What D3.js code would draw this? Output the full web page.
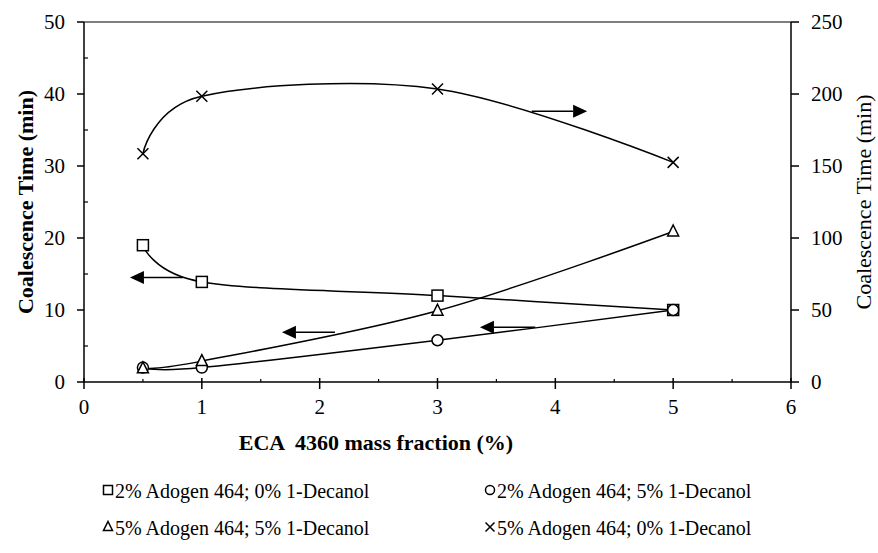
<!DOCTYPE html>
<html>
<head>
<meta charset="utf-8">
<script src="https://cdn.jsdelivr.net/npm/d3@7"></script>
<style>
  body { margin: 0; background: #fff; }
</style>
</head>
<body>
<svg id="chart" width="878" height="553"></svg>
<script>
// ECA 4360 mass fraction (%)
const xValues = [0.5, 1, 3, 5];

// left axis series (min)
const sq2a0d = [19, 13.9, 12, 10];
const ci2a5d = [2, 2, 5.8, 10];
const tr5a5d = [1.9, 2.9, 9.9, 20.9];
// right axis series (min)
const x5a0d = [158.5, 198.5, 203.5, 152.5];

const leftTicks = [0, 10, 20, 30, 40, 50];
const leftMinor = [5, 15, 25, 35, 45];
const rightTicks = [0, 50, 100, 150, 200, 250];
const xTicks = [0, 1, 2, 3, 4, 5, 6];
const xMinor = [0.5, 1.5, 2.5, 3.5, 4.5, 5.5];

// arrows: [from x, to x, y, axis]
const arrows = [
  [0.84, 0.39, 14.5, 'left'],
  [2.13, 1.68, 6.9, 'left'],
  [3.83, 3.36, 7.6, 'left'],
  [3.80, 4.27, 188, 'right']
];

const legendItems = [
  { label: '2% Adogen 464; 0% 1-Decanol', shape: 'square' },
  { label: '2% Adogen 464; 5% 1-Decanol', shape: 'circle' },
  { label: '5% Adogen 464; 5% 1-Decanol', shape: 'triangle' },
  { label: '5% Adogen 464; 0% 1-Decanol', shape: 'cross' }
];

const FONT = 'Liberation Serif';
const svg = d3.select('#chart');
const pLeft = 84, pRight = 791, pTop = 22, pBottom = 382;

const x = d3.scaleLinear().domain([0, 6]).range([pLeft, pRight]);
const yL = d3.scaleLinear().domain([0, 50]).range([pBottom, pTop]);
const yR = d3.scaleLinear().domain([0, 250]).range([pBottom, pTop]);

function txt(g) {
  return g.append('text').attr('font-family', FONT).attr('fill', '#000');
}

// frame
svg.append('line').attr('x1', pLeft).attr('x2', pRight).attr('y1', pTop).attr('y2', pTop)
  .attr('stroke', '#000').attr('stroke-width', 1.2);

// left axis
svg.append('line').attr('x1', pLeft).attr('x2', pLeft).attr('y1', pTop).attr('y2', pBottom)
  .attr('stroke', '#000').attr('stroke-width', 1.5);
leftTicks.forEach(t => {
  svg.append('line').attr('x1', pLeft - 7).attr('x2', pLeft).attr('y1', yL(t)).attr('y2', yL(t))
    .attr('stroke', '#000').attr('stroke-width', 1.5);
  txt(svg).attr('x', pLeft - 19).attr('y', yL(t) + 7).attr('text-anchor', 'end')
    .attr('font-size', 21).text(t);
});
leftMinor.forEach(t => {
  svg.append('line').attr('x1', pLeft).attr('x2', pLeft + 4).attr('y1', yL(t)).attr('y2', yL(t))
    .attr('stroke', '#000').attr('stroke-width', 1.2);
});

// right axis
svg.append('line').attr('x1', pRight).attr('x2', pRight).attr('y1', pTop).attr('y2', pBottom)
  .attr('stroke', '#000').attr('stroke-width', 1.5);
rightTicks.forEach(t => {
  svg.append('line').attr('x1', pRight).attr('x2', pRight + 8).attr('y1', yR(t)).attr('y2', yR(t))
    .attr('stroke', '#000').attr('stroke-width', 1.5);
  txt(svg).attr('x', pRight + 20).attr('y', yR(t) + 7).attr('text-anchor', 'start')
    .attr('font-size', 21).text(t);
});

// bottom axis
svg.append('line').attr('x1', pLeft).attr('x2', pRight).attr('y1', pBottom).attr('y2', pBottom)
  .attr('stroke', '#000').attr('stroke-width', 1.5);
xTicks.forEach(t => {
  svg.append('line').attr('x1', x(t)).attr('x2', x(t)).attr('y1', pBottom - 4).attr('y2', pBottom + 7)
    .attr('stroke', '#000').attr('stroke-width', 1.5);
  txt(svg).attr('x', x(t)).attr('y', pBottom + 32).attr('text-anchor', 'middle')
    .attr('font-size', 21).text(t);
});
xMinor.forEach(t => {
  svg.append('line').attr('x1', x(t)).attr('x2', x(t)).attr('y1', pBottom - 3).attr('y2', pBottom)
    .attr('stroke', '#000').attr('stroke-width', 1.2);
});

// axis titles
txt(svg).attr('x', 376).attr('y', 450).attr('text-anchor', 'middle')
  .attr('font-size', 22).attr('font-weight', 'bold').attr('xml:space', 'preserve')
  .text('ECA  4360 mass fraction (%)');
txt(svg).attr('transform', `translate(33,${(pTop + pBottom) / 2}) rotate(-90)`)
  .attr('text-anchor', 'middle').attr('font-size', 22).attr('font-weight', 'bold')
  .text('Coalescence Time (min)');
txt(svg).attr('transform', `translate(871,${(pTop + pBottom) / 2}) rotate(-90)`)
  .attr('text-anchor', 'middle').attr('font-size', 22)
  .text('Coalescence Time (min)');

// lines
const series = [
  { vals: sq2a0d, y: yL, shape: 'square' },
  { vals: ci2a5d, y: yL, shape: 'circle' },
  { vals: tr5a5d, y: yL, shape: 'triangle' },
  { vals: x5a0d, y: yR, shape: 'cross' }
];
series.forEach(s => {
  const line = d3.line().x((d, i) => x(xValues[i])).y(d => s.y(d)).curve(d3.curveCardinal.tension(0));
  svg.append('path').attr('d', line(s.vals)).attr('fill', 'none')
    .attr('stroke', '#000').attr('stroke-width', 1.5);
});

function marker(g, shape, cx, cy, size) {
  const h = size / 2;
  if (shape === 'square') {
    g.append('rect').attr('x', cx - h).attr('y', cy - h).attr('width', size).attr('height', size)
      .attr('fill', '#fff').attr('stroke', '#000').attr('stroke-width', 1.5);
  } else if (shape === 'circle') {
    g.append('circle').attr('cx', cx).attr('cy', cy).attr('r', h)
      .attr('fill', '#fff').attr('stroke', '#000').attr('stroke-width', 1.5);
  } else if (shape === 'triangle') {
    g.append('path').attr('d', `M${cx},${cy - h - 1}L${cx + h},${cy + h - 1}L${cx - h},${cy + h - 1}Z`)
      .attr('fill', '#fff').attr('stroke', '#000').attr('stroke-width', 1.5);
  } else {
    g.append('path').attr('d', `M${cx - h},${cy - h}L${cx + h},${cy + h}M${cx - h},${cy + h}L${cx + h},${cy - h}`)
      .attr('fill', 'none').attr('stroke', '#000').attr('stroke-width', 1.5);
  }
}

series.forEach(s => {
  s.vals.forEach((v, i) => marker(svg, s.shape, x(xValues[i]), s.y(v), 11));
});

// arrows
arrows.forEach(([x0, x1, yv, ax]) => {
  const sc = ax === 'left' ? yL : yR;
  const py = sc(yv), px0 = x(x0), px1 = x(x1);
  const dir = Math.sign(px1 - px0);
  const hl = 14, hw = 6.5;
  svg.append('line').attr('x1', px0).attr('x2', px1 - dir * hl).attr('y1', py).attr('y2', py)
    .attr('stroke', '#000').attr('stroke-width', 1.5);
  svg.append('path')
    .attr('d', `M${px1},${py}L${px1 - dir * hl},${py - hw}L${px1 - dir * hl},${py + hw}Z`)
    .attr('fill', '#000');
});

// legend
const legPos = [[103, 491], [485, 491], [103, 528], [485, 528]];
legendItems.forEach((d, i) => {
  const [lx, ly] = legPos[i];
  const g = svg.append('g');
  marker(g, d.shape, lx + 5, ly - 1, 9);
  txt(g).attr('x', lx + 12).attr('y', ly + 7).attr('font-size', 20).text(d.label);
});
</script>
</body>
</html>
